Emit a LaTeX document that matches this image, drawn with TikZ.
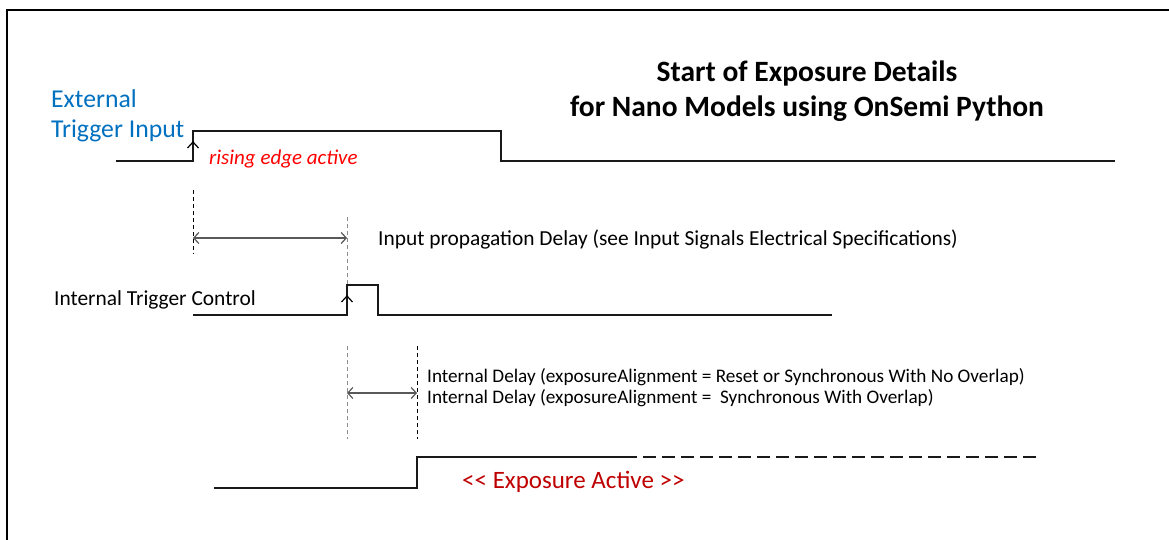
\documentclass[tikz,border=0pt]{standalone}
\usepackage{fontspec}
\setmainfont{Carlito}
\usetikzlibrary{arrows.meta}
\definecolor{tblue}{HTML}{0070C0}
\definecolor{tred}{HTML}{FF0000}
\definecolor{dred}{HTML}{C00000}
\definecolor{agray}{HTML}{595959}
\definecolor{vgray}{HTML}{8C8C8C}
\tikzset{
  signal/.style={line width=2pt, black!90, line join=miter},
  frame/.style={line width=2pt, black},
  vdash/.style={line width=1pt, dash pattern=on 4pt off 3pt},
  dimarrow/.style={line width=1.2pt, agray, {Straight Barb[length=5pt,width=11pt]}-{Straight Barb[length=5pt,width=11pt]}},
  chev/.style={line width=1.2pt, black},
  lbl/.style={anchor=base west, inner sep=0pt},
}
\begin{document}
\begin{tikzpicture}[x=1pt,y=-1pt]
\useasboundingbox (0,0) rectangle (1169,540);
\fill[white] (0,0) rectangle (1169,540);
% frame
\draw[frame] (7,540) -- (7,10) -- (1169,10);

% title
\node[anchor=base, inner sep=0pt, font=\fontsize{29.5}{34}\selectfont\bfseries] (t1) at (807,82) {Start of Exposure Details};
\node[anchor=base, inner sep=0pt, font=\fontsize{29.5}{34}\selectfont\bfseries] (t2) at (807,117) {for Nano Models using OnSemi Python};

% external trigger
\node[lbl, text=tblue, font=\fontsize{25.7}{30}\selectfont] (ext1) at (51,108) {External};
\node[lbl, text=tblue, font=\fontsize{25.7}{30}\selectfont] (ext2) at (51,138) {Trigger Input};
\coordinate (e0) at (116,161);
\coordinate (e1) at (193,161);
\coordinate (e2) at (193,131);
\coordinate (e3) at (501,131);
\coordinate (e4) at (501,161);
\coordinate (e5) at (1115,161);
\draw[signal] (e0) -- (e1) -- (e2) -- (e3) -- (e4) -- (e5);
\draw[chev] (187.5,148) -- (193,142) -- (198.5,148);
\node[lbl, text=tred, font=\fontsize{21}{24}\selectfont\itshape] (rise) at (209,165) {rising edge active};

% propagation delay
\coordinate (d1a) at (193,190);
\coordinate (d1b) at (193,254);
\draw[vdash, black] (d1a) -- (d1b);
\coordinate (d2a) at (347,217);
\coordinate (d2b) at (347,284);
\draw[vdash, vgray] (d2a) -- (d2b);
\coordinate (p1) at (193,238);
\coordinate (p2) at (347,238);
\draw[dimarrow] (p1) -- (p2);
\node[lbl, font=\fontsize{21.4}{25}\selectfont] (prop) at (378,245) {Input propagation Delay (see Input Signals Electrical Specifications)};

% internal trigger
\node[lbl, font=\fontsize{21.4}{25}\selectfont] (itc) at (54,305) {Internal Trigger Control};
\coordinate (i0) at (193,315);
\coordinate (i1) at (347,315);
\coordinate (i2) at (347,285);
\coordinate (i3) at (378,285);
\coordinate (i4) at (378,315);
\coordinate (i5) at (832,315);
\draw[signal] (i0) -- (i1) -- (i2) -- (i3) -- (i4) -- (i5);
\draw[chev] (341.5,302) -- (347,296) -- (352.5,302);

% internal delay
\coordinate (d3a) at (347,346);
\coordinate (d3b) at (347,439);
\draw[vdash, vgray] (d3a) -- (d3b);
\coordinate (d4a) at (417,346);
\coordinate (d4b) at (417,439);
\draw[vdash, black] (d4a) -- (d4b);
\coordinate (q1) at (347,393);
\coordinate (q2) at (417,393);
\draw[dimarrow] (q1) -- (q2);
\node[lbl, font=\fontsize{19.2}{21}\selectfont] (id1) at (427,382) {Internal Delay (exposureAlignment = Reset or Synchronous With No Overlap)};
\node[lbl, font=\fontsize{19.2}{21}\selectfont] (id2) at (427,403) {Internal Delay (exposureAlignment =~ Synchronous With Overlap)};

% exposure
\coordinate (x0) at (214,488);
\coordinate (x1) at (417,488);
\coordinate (x2) at (417,457);
\coordinate (x3) at (624,457);
\coordinate (x4) at (1038,457);
\draw[signal] (x0) -- (x1) -- (x2) -- (x3);
\draw[signal, dash pattern=on 13pt off 6pt] (x3) -- (x4);
\node[lbl, text=dred, font=\fontsize{25}{30}\selectfont] (expa) at (462,488) {<\kern0pt< Exposure Active >\kern0pt>};
\end{tikzpicture}
\end{document}
